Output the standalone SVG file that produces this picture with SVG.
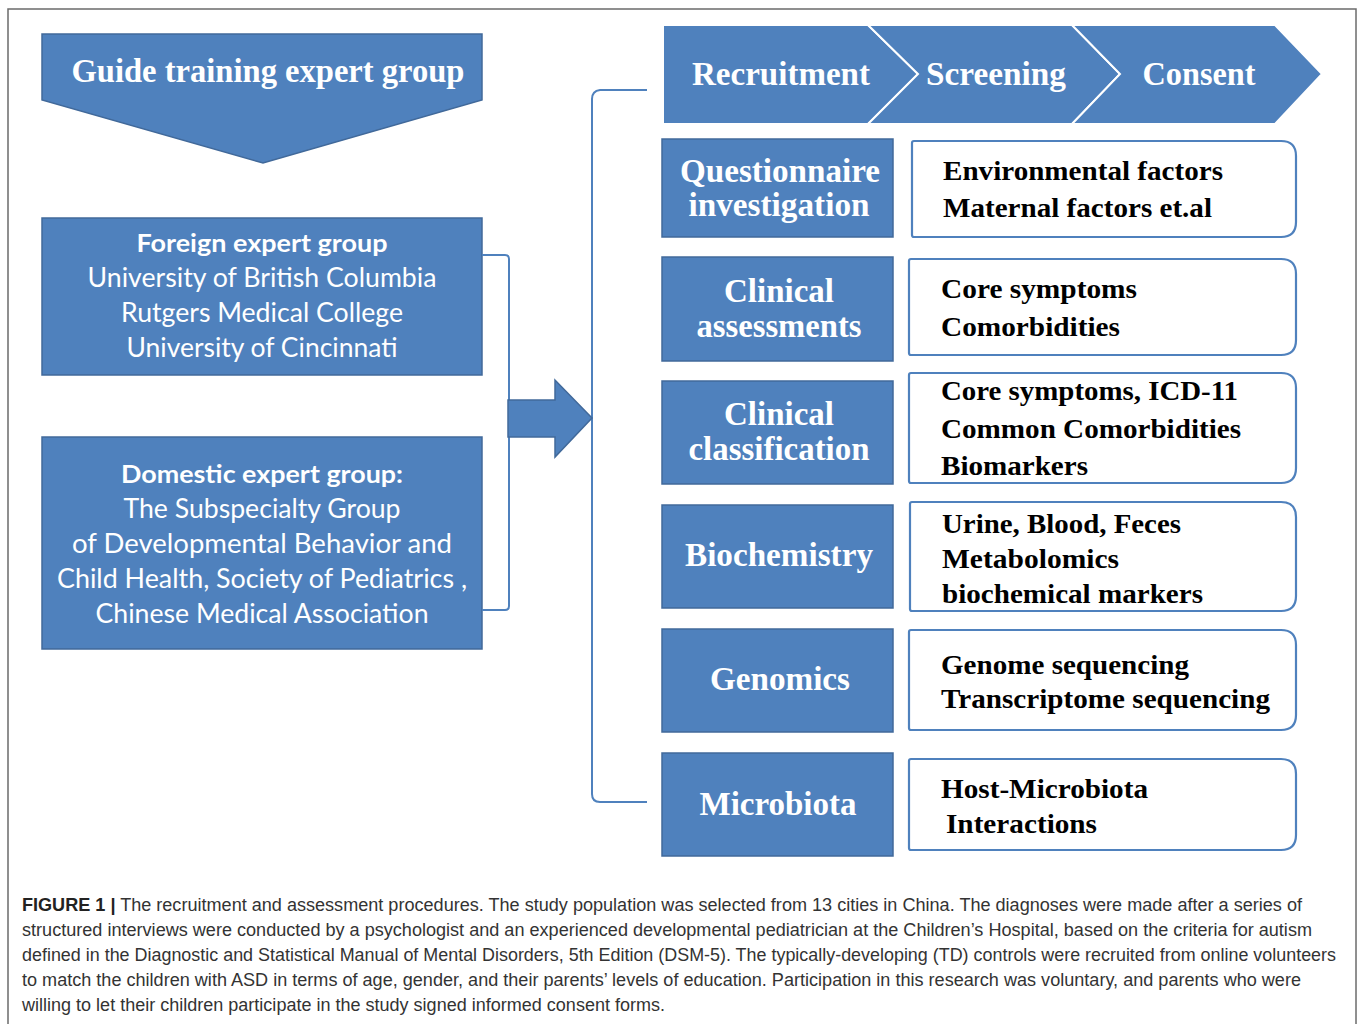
<svg xmlns="http://www.w3.org/2000/svg" width="1358" height="1024" viewBox="0 0 1358 1024">
<style>
.blue{fill:#4F81BD;stroke:#41699A;stroke-width:1.5}
.wbox{fill:#fff;stroke:#4F81BD;stroke-width:2.2}
.ttl{font-family:"Liberation Serif","Times New Roman",serif;font-weight:bold;fill:#fff;font-size:33px;text-anchor:middle}
.rt{font-family:"Liberation Serif","Times New Roman",serif;font-weight:bold;fill:#000;font-size:28px}
.sb{font-family:Lato,"Open Sans",sans-serif;font-weight:bold;fill:#fff;font-size:25px;text-anchor:middle}
.sn{font-family:Lato,"Open Sans",sans-serif;fill:#fff;font-size:26px;text-anchor:middle}
.cap{font-family:"Liberation Sans",Arial,sans-serif;fill:#333;font-size:17.5px}
.conn{fill:none;stroke:#4F81BD;stroke-width:2}
</style>
<rect x="0" y="0" width="1358" height="1024" fill="#fff"/>
<rect x="8" y="9" width="1348" height="1030" fill="none" stroke="#6b6b6b" stroke-width="1.5"/>

<g id="guide">
<path class="blue" d="M42,34 H482 V100 L263,163 L42,100 Z"/>
<text class="ttl" x="268" y="82" textLength="393" lengthAdjust="spacingAndGlyphs">Guide training expert group</text>
</g>

<g id="foreign">
<rect class="blue" x="42" y="218" width="440" height="157"/>
<text class="sb" x="262" y="252" textLength="251" lengthAdjust="spacingAndGlyphs">Foreign expert group</text>
<text class="sn" x="262" y="287" textLength="349" lengthAdjust="spacingAndGlyphs">University of British Columbia</text>
<text class="sn" x="262" y="322" textLength="282" lengthAdjust="spacingAndGlyphs">Rutgers Medical College</text>
<text class="sn" x="262" y="357" textLength="271" lengthAdjust="spacingAndGlyphs">University of Cincinnati</text>
</g>

<g id="domestic">
<rect class="blue" x="42" y="437" width="440" height="212"/>
<text class="sb" x="262" y="483" textLength="282" lengthAdjust="spacingAndGlyphs">Domestic expert group:</text>
<text class="sn" x="262" y="518" textLength="277" lengthAdjust="spacingAndGlyphs">The Subspecialty Group</text>
<text class="sn" x="262" y="553" textLength="380" lengthAdjust="spacingAndGlyphs">of  Developmental  Behavior and</text>
<text class="sn" x="262" y="588" textLength="410" lengthAdjust="spacingAndGlyphs">Child Health,  Society of Pediatrics ,</text>
<text class="sn" x="262" y="623" textLength="333" lengthAdjust="spacingAndGlyphs">Chinese Medical Association</text>
</g>

<g id="connectors">
<path class="conn" d="M482,255 H505 Q509,255 509,259 V606 Q509,610 505,610 H482"/>
<path class="conn" d="M647,90 H600 Q592,91 592,99 V794 Q592,802 600,802 H647"/>
<path class="blue" d="M508,400 H555 V380 L592,418 L555,457 V437 H508 Z"/>
</g>

<g id="process">
<path fill="#4F81BD" stroke="#fff" stroke-width="2" d="M663,25 H868 L918,74 L868,124 H663 Z"/>
<path fill="#4F81BD" stroke="#fff" stroke-width="2" d="M868,25 H1072 L1120,74 L1072,124 H868 L918,74 Z"/>
<path fill="#4F81BD" stroke="#fff" stroke-width="2" d="M1072,25 H1275 L1322,74 L1275,124 H1072 L1120,74 Z"/>
<text class="ttl" x="781" y="85" textLength="178" lengthAdjust="spacingAndGlyphs">Recruitment</text>
<text class="ttl" x="996" y="85" textLength="140" lengthAdjust="spacingAndGlyphs">Screening</text>
<text class="ttl" x="1199" y="85" textLength="113" lengthAdjust="spacingAndGlyphs">Consent</text>
</g>

<g id="questionnaire">
<rect class="blue" x="662" y="139" width="231" height="98"/>
<text class="ttl" x="780" y="182" textLength="200" lengthAdjust="spacingAndGlyphs">Questionnaire</text>
<text class="ttl" x="779" y="216" textLength="181" lengthAdjust="spacingAndGlyphs">investigation</text>
</g>
<g id="questionnaire-detail">
<path class="wbox" d="M914,141 H1281 Q1296,141 1296,156 V222 Q1296,237 1281,237 H914 Q912,237 912,235 V143 Q912,141 914,141 Z"/>
<text class="rt" x="943" y="180" textLength="280" lengthAdjust="spacingAndGlyphs">Environmental factors</text>
<text class="rt" x="943" y="217" textLength="269" lengthAdjust="spacingAndGlyphs">Maternal factors et.al</text>
</g>

<g id="assessments">
<rect class="blue" x="662" y="257" width="231" height="104"/>
<text class="ttl" x="779" y="302" textLength="110" lengthAdjust="spacingAndGlyphs">Clinical</text>
<text class="ttl" x="779" y="337" textLength="165" lengthAdjust="spacingAndGlyphs">assessments</text>
</g>
<g id="assessments-detail">
<path class="wbox" d="M911,259 H1281 Q1296,259 1296,274 V340 Q1296,355 1281,355 H911 Q909,355 909,353 V261 Q909,259 911,259 Z"/>
<text class="rt" x="941" y="298" textLength="196" lengthAdjust="spacingAndGlyphs">Core symptoms</text>
<text class="rt" x="941" y="336" textLength="179" lengthAdjust="spacingAndGlyphs">Comorbidities</text>
</g>

<g id="classification">
<rect class="blue" x="662" y="381" width="231" height="103"/>
<text class="ttl" x="779" y="425" textLength="110" lengthAdjust="spacingAndGlyphs">Clinical</text>
<text class="ttl" x="779" y="460" textLength="181" lengthAdjust="spacingAndGlyphs">classification</text>
</g>
<g id="classification-detail">
<path class="wbox" d="M911,373 H1281 Q1296,373 1296,388 V468 Q1296,483 1281,483 H911 Q909,483 909,481 V375 Q909,373 911,373 Z"/>
<text class="rt" x="941" y="400" textLength="297" lengthAdjust="spacingAndGlyphs">Core symptoms, ICD-11</text>
<text class="rt" x="941" y="438" textLength="300" lengthAdjust="spacingAndGlyphs">Common Comorbidities</text>
<text class="rt" x="941" y="475" textLength="147" lengthAdjust="spacingAndGlyphs">Biomarkers</text>
</g>

<g id="biochemistry">
<rect class="blue" x="662" y="505" width="231" height="103"/>
<text class="ttl" x="779" y="566" textLength="188" lengthAdjust="spacingAndGlyphs">Biochemistry</text>
</g>
<g id="biochemistry-detail">
<path class="wbox" d="M912,502 H1281 Q1296,502 1296,517 V596 Q1296,611 1281,611 H912 Q910,611 910,609 V504 Q910,502 912,502 Z"/>
<text class="rt" x="942" y="533" textLength="239" lengthAdjust="spacingAndGlyphs">Urine, Blood, Feces</text>
<text class="rt" x="942" y="568" textLength="177" lengthAdjust="spacingAndGlyphs">Metabolomics</text>
<text class="rt" x="942" y="603" textLength="261" lengthAdjust="spacingAndGlyphs">biochemical markers</text>
</g>

<g id="genomics">
<rect class="blue" x="662" y="629" width="231" height="103"/>
<text class="ttl" x="780" y="690" textLength="140" lengthAdjust="spacingAndGlyphs">Genomics</text>
</g>
<g id="genomics-detail">
<path class="wbox" d="M911,630 H1281 Q1296,630 1296,645 V715 Q1296,730 1281,730 H911 Q909,730 909,728 V632 Q909,630 911,630 Z"/>
<text class="rt" x="941" y="674" textLength="248" lengthAdjust="spacingAndGlyphs">Genome sequencing</text>
<text class="rt" x="941" y="708" textLength="329" lengthAdjust="spacingAndGlyphs">Transcriptome sequencing</text>
</g>

<g id="microbiota">
<rect class="blue" x="662" y="753" width="231" height="103"/>
<text class="ttl" x="778" y="815" textLength="157" lengthAdjust="spacingAndGlyphs">Microbiota</text>
</g>
<g id="microbiota-detail">
<path class="wbox" d="M911,759 H1281 Q1296,759 1296,774 V835 Q1296,850 1281,850 H911 Q909,850 909,848 V761 Q909,759 911,759 Z"/>
<text class="rt" x="941" y="798" textLength="207" lengthAdjust="spacingAndGlyphs">Host-Microbiota</text>
<text class="rt" x="946" y="833" textLength="151" lengthAdjust="spacingAndGlyphs">Interactions</text>
</g>

<g id="caption">
<text class="cap" x="22" y="911" textLength="1280" lengthAdjust="spacingAndGlyphs"><tspan font-weight="bold" fill="#222">FIGURE 1 |</tspan> The recruitment and assessment procedures. The study population was selected from 13 cities in China. The diagnoses were made after a series of</text>
<text class="cap" x="22" y="936" textLength="1290" lengthAdjust="spacingAndGlyphs">structured interviews were conducted by a psychologist and an experienced developmental pediatrician at the Children’s Hospital, based on the criteria for autism</text>
<text class="cap" x="22" y="961" textLength="1314" lengthAdjust="spacingAndGlyphs">defined in the Diagnostic and Statistical Manual of Mental Disorders, 5th Edition (DSM-5). The typically-developing (TD) controls were recruited from online volunteers</text>
<text class="cap" x="22" y="986" textLength="1279" lengthAdjust="spacingAndGlyphs">to match the children with ASD in terms of age, gender, and their parents’ levels of education. Participation in this research was voluntary, and parents who were</text>
<text class="cap" x="22" y="1011" textLength="643" lengthAdjust="spacingAndGlyphs">willing to let their children participate in the study signed informed consent forms.</text>
</g>
</svg>
